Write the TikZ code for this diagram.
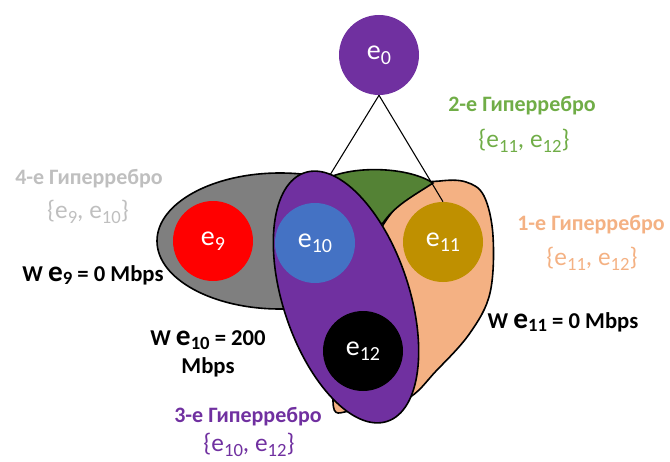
\documentclass[tikz,border=0pt]{standalone}
\usepackage{fontspec}
\setmainfont{Carlito}
\definecolor{cpurple}{HTML}{7030A0}
\definecolor{cgreen}{HTML}{548235}
\definecolor{cgreentxt}{HTML}{70AD47}
\definecolor{corange}{HTML}{F4B183}
\definecolor{cgray}{HTML}{7F7F7F}
\definecolor{cgraytxt}{HTML}{BFBFBF}
\definecolor{cblue}{HTML}{4472C4}
\definecolor{cgold}{HTML}{BF9000}
\definecolor{cred}{HTML}{FF0000}
\newcommand{\ee}[1]{e\raisebox{-0.18em}{\fontsize{15}{15}\selectfont #1}}
\newcommand{\be}[1]{e\raisebox{-0.18em}{\fontsize{14}{14}\selectfont #1}}
\newcommand{\We}[1]{{\fontsize{22}{22}\selectfont e}\raisebox{-0.15em}{\fontsize{14}{14}\selectfont #1}}
\begin{document}
\begin{tikzpicture}[x=0.75pt,y=0.75pt,
  vert/.style={circle,minimum size=60pt,inner sep=0pt,text=white,font=\fontsize{21}{21}\selectfont},
  hyper/.style={draw=black,line width=1.2pt},
  title/.style={font=\fontsize{16.5}{18}\bfseries\selectfont},
  setlbl/.style={font=\fontsize{19}{21}\selectfont},
  wlbl/.style={font=\fontsize{17}{21}\bfseries\selectfont,align=center},
  link/.style={draw=black,line width=0.8pt}]
\useasboundingbox (0,0) rectangle (670,461);
% gray hyperedge
\path[hyper,fill=cgray] (280,220) ellipse [x radius=123, y radius=68];
% orange hyperedge
\path[hyper,fill=corange] plot[smooth cycle,tension=0.6] coordinates {(415,273) (440,280) (466,279) (484,265) (493,225) (490,168) (470,128) (437,91) (405,61) (352,50) (333,60) (350,161) (380,231)};
% green hyperedge
\path[hyper,fill=cgreen] (330,284) .. controls (360,296) and (410,293) .. (433,278) .. controls (415,266) and (395,256) .. (383,238) -- (340,221) -- cycle;
% nodes
\node[vert,fill=cpurple] (e0) at (379,406) {\ee{0}};
\coordinate (p10) at (330,286);
\node[vert] (e11pos) at (443,219) {};
\draw[link] (e0.south) -- (p10);
\draw[link] (e0.south) -- (e11pos.north);
% purple hyperedge
\path[hyper,fill=cpurple,rotate around={-71.6:(346,164)}] (346,164) ellipse [x radius=131, y radius=63];
\node[vert,fill=cred] (e9) at (213,220) {\ee{9}};
\node[vert,fill=cblue] (e10) at (315,218) {\ee{10}};
\node[vert,fill=cgold] (e11) at (443,219) {\ee{11}};
\node[vert,fill=black] (e12) at (363,110) {\ee{12}};
% labels
\node[title,text=cgreentxt] (t2) at (522,355) {2-е Гиперребро};
\node[setlbl,text=cgreentxt] (s2) at (524,320) {\{\be{11}, \be{12}\}};
\node[title,text=corange] (t1) at (591,236) {1-е Гиперребро};
\node[setlbl,text=corange] (s1) at (592,202) {\{\be{11}, \be{12}\}};
\node[title,text=cgraytxt] (t4) at (89,282) {4-е Гиперребро};
\node[setlbl,text=cgraytxt] (s4) at (88,249) {\{\be{9}, \be{10}\}};
\node[title,text=cpurple] (t3) at (248,44) {3-е Гиперребро};
\node[setlbl,text=cpurple] (s3) at (249,16) {\{\be{10}, \be{12}\}};
\node[wlbl] (w11) at (563,139) {W \We{11} = 0 Mbps};
\node[wlbl] (w9) at (93,186) {W \We{9} = 0 Mbps};
\node[wlbl] (w10) at (208,107) {W \We{10} = 200\\Mbps};
\end{tikzpicture}
\end{document}
